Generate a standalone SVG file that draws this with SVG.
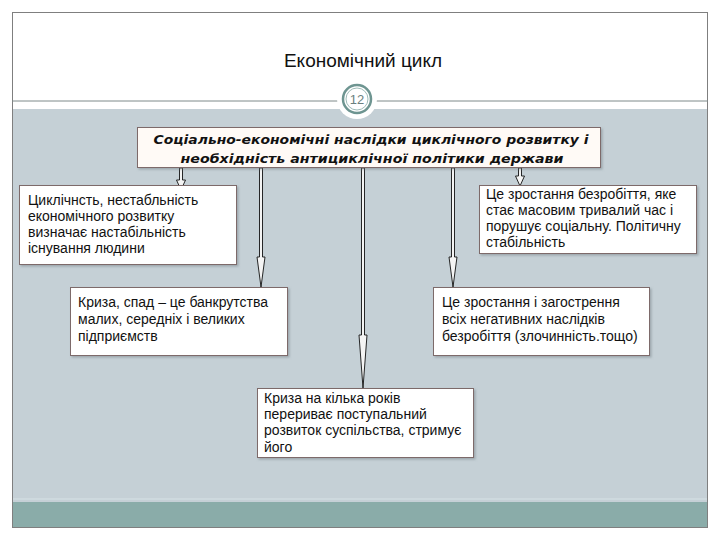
<svg xmlns="http://www.w3.org/2000/svg" width="720" height="540" viewBox="0 0 720 540">
<style>
.box{fill:#ffffff;stroke:#7d6a6a;stroke-width:1}
.t{font-family:"Liberation Sans",Arial,sans-serif;font-size:14px;fill:#111}
.h{font-family:"DejaVu Sans",Verdana,sans-serif;font-size:13px;font-weight:bold;font-style:italic;fill:#111}
.arr{fill:#f4f4f4;stroke:#111;stroke-width:0.9}
</style>
<defs>
<filter id="sh" x="-5%" y="-5%" width="115%" height="120%">
<feDropShadow dx="1.5" dy="1.5" stdDeviation="1" flood-color="#6f7a80" flood-opacity="0.5"/>
</filter>
</defs>
<rect x="0" y="0" width="720" height="540" fill="#ffffff"/>
<rect x="13" y="109" width="694" height="393" fill="#c5d0d6"/>
<rect x="13" y="502" width="694" height="25" fill="#8aaca9"/>
<line x1="13" y1="499" x2="707" y2="499" stroke="#d6e2e6" stroke-width="1"/>
<rect x="12.5" y="12.5" width="695" height="515" fill="none" stroke="#7f7f7f" stroke-width="1"/>
<line x1="12" y1="101" x2="708" y2="101" stroke="#7f8a8a" stroke-width="1"/>
<g id="title">
<text x="363" y="67" text-anchor="middle" font-family="'Liberation Sans',Arial,sans-serif" font-size="19" fill="#111">Економічний цикл</text>
</g>
<g id="pagenum">
<circle cx="357" cy="99" r="20" fill="#ffffff"/>
<circle cx="357" cy="99" r="14" fill="#ffffff" stroke="#6e9591" stroke-width="2.5"/>
<circle cx="357" cy="99" r="11" fill="none" stroke="#9fbcb8" stroke-width="1"/>
<text x="357" y="104" text-anchor="middle" font-family="'Liberation Sans',Arial,sans-serif" font-size="13" fill="#6b7f7e">12</text>
</g>
<g id="connectors">
<polygon class="arr" points="179.5,168 182.5,168 182.5,180 185.5,180 181,190 176.5,180 179.5,180"/>
<polygon class="arr" points="518.5,168 521.5,168 521.5,176 524.5,176 520,186 515.5,176 518.5,176"/>
<polygon class="arr" points="259.5,168 262.5,168 262.5,257 265,257 261,287 257,257 259.5,257"/>
<polygon class="arr" points="361.5,168 364.5,168 364.5,335 367,335 363,388 359,335 361.5,335"/>
<polygon class="arr" points="451.5,168 454.5,168 454.5,257 457,257 453,287 449,257 451.5,257"/>
</g>
<g id="main">
<rect class="box" x="137.5" y="127.5" width="463" height="40" style="fill:#fffaf6" filter="url(#sh)"/>
<text class="h" x="371" y="144" text-anchor="middle" textLength="435" lengthAdjust="spacingAndGlyphs">Соціально-економічні наслідки циклічного розвитку і</text>
<text class="h" x="372" y="163" text-anchor="middle" textLength="383" lengthAdjust="spacingAndGlyphs">необхідність антициклічної політики держави</text>
</g>
<g id="n1">
<rect class="box" x="19.5" y="185.5" width="217" height="79" filter="url(#sh)"/>
<text class="t" x="28" y="205">Циклічнсть, нестабльність</text>
<text class="t" x="28" y="221">економічного розвитку</text>
<text class="t" x="28" y="237">визначає настабільність</text>
<text class="t" x="28" y="253">існування людини</text>
</g>
<g id="n4">
<rect class="box" x="479.5" y="185.5" width="217" height="68" filter="url(#sh)"/>
<text class="t" x="486" y="199">Це зростання безробіття, яке</text>
<text class="t" x="486" y="215">стає масовим тривалий час і</text>
<text class="t" x="486" y="231">порушує соціальну. Політичну</text>
<text class="t" x="486" y="247">стабільність</text>
</g>
<g id="n2">
<rect class="box" x="70.5" y="287.5" width="217" height="68" filter="url(#sh)"/>
<text class="t" x="78" y="307">Криза, спад – це банкрутства</text>
<text class="t" x="78" y="324">малих, середніх і великих</text>
<text class="t" x="78" y="341">підприємств</text>
</g>
<g id="n5">
<rect class="box" x="433.5" y="287.5" width="216" height="68" filter="url(#sh)"/>
<text class="t" x="442" y="307">Це зростання і загострення</text>
<text class="t" x="442" y="324">всіх негативних наслідків</text>
<text class="t" x="442" y="341">безробіття (злочинність.тощо)</text>
</g>
<g id="n3">
<rect class="box" x="257.5" y="388.5" width="216" height="69" filter="url(#sh)"/>
<text class="t" x="264" y="403">Криза на кілька років</text>
<text class="t" x="264" y="419">перериває поступальний</text>
<text class="t" x="264" y="435">розвиток суспільства, стримує</text>
<text class="t" x="264" y="452">його</text>
</g>
</svg>
